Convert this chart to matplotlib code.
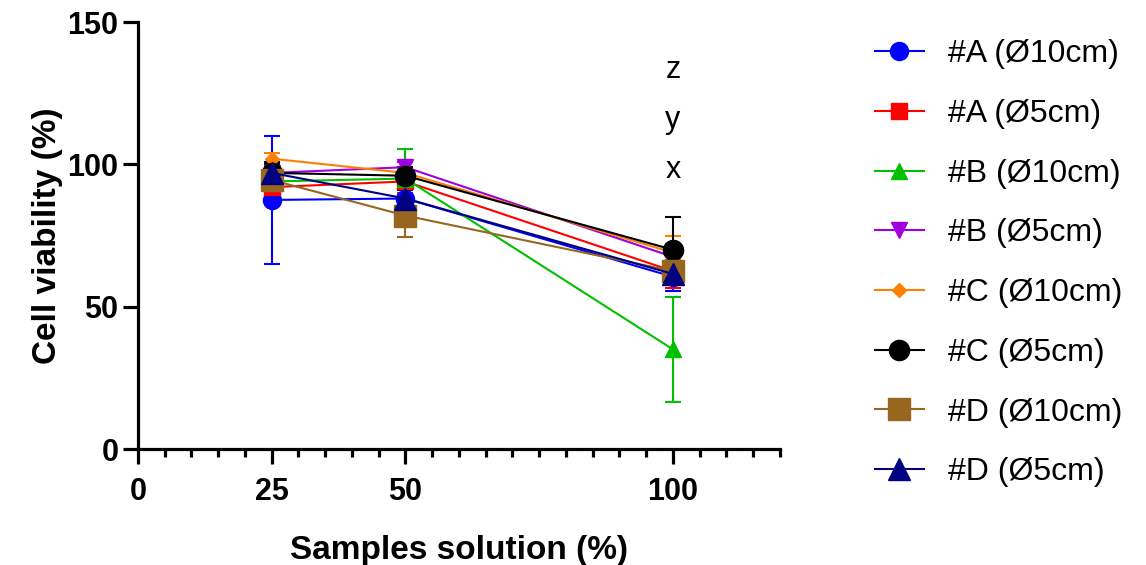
import numpy as np
import matplotlib
matplotlib.use('Agg')
import matplotlib.pyplot as plt
from matplotlib.ticker import MultipleLocator, FixedLocator
from matplotlib.lines import Line2D

plt.rcParams['font.family'] = ['Liberation Sans', 'DejaVu Sans']

# concentrations of the samples solution (%)
conc = [25, 50, 100]

labels = ['#A (Ø10cm)', '#A (Ø5cm)', '#B (Ø10cm)', '#B (Ø5cm)',
          '#C (Ø10cm)', '#C (Ø5cm)', '#D (Ø10cm)', '#D (Ø5cm)']

# mean cell viability (%) per sample
a10_mean = [87.5, 88.0, 60.5]
a5_mean = [92.0, 94.0, 62.5]
b10_mean = [94.0, 95.0, 35.0]
b5_mean = [97.0, 99.0, 67.5]
c10_mean = [102.0, 97.0, 69.0]
c5_mean = [97.0, 96.0, 70.0]
d10_mean = [94.5, 82.0, 62.5]
d5_mean = [97.0, 88.0, 61.5]

# standard deviations
a10_sd = [22.5, 7.5, 5.0]
a5_sd = [3.0, 4.0, 6.0]
b10_sd = [4.0, 10.5, 18.5]
b5_sd = [3.0, 2.0, 4.5]
c10_sd = [2.0, 1.5, 6.0]
c5_sd = [4.0, 3.0, 11.5]
d10_sd = [5.0, 7.5, 4.0]
d5_sd = [3.0, 3.0, 3.0]

means = [a10_mean, a5_mean, b10_mean, b5_mean, c10_mean, c5_mean, d10_mean, d5_mean]
sds = [a10_sd, a5_sd, b10_sd, b5_sd, c10_sd, c5_sd, d10_sd, d5_sd]

colors = ['#0000FF', '#FF0000', '#00C000', '#A000E0',
          '#FF8000', '#000000', '#98661E', '#000080']
markers = ['o', 's', '^', 'v', 'D', 'o', 's', '^']
msizes = [13, 11.5, 12, 12, 7.5, 14.5, 16, 16.5]

# significance letters above the 100% group
letters = ['z', 'y', 'x']
letter_y = [133, 115.5, 98]

fig = plt.figure(figsize=(11.46, 5.65), dpi=100)
ax = fig.add_axes([0.1204, 0.2053, 0.5602, 0.7557])

handles = []
for m, s, c, mk, ms, lab in zip(means, sds, colors, markers, msizes, labels):
    ax.errorbar(conc, m, yerr=s, color=c, marker=mk, markersize=ms,
                linewidth=1.5, elinewidth=1.5, capsize=6, capthick=1.5,
                markeredgecolor=c)
    handles.append(Line2D([], [], color=c, marker=mk, markersize=ms,
                          linewidth=1.5, markeredgecolor=c))

for t, yy in zip(letters, letter_y):
    ax.text(100, yy, t, ha='center', va='center', fontsize=22)

ax.set_xlim(0, 120)
ax.set_ylim(0, 150)
ax.xaxis.set_major_locator(FixedLocator([0, 25, 50, 100]))
ax.xaxis.set_minor_locator(MultipleLocator(5))
ax.yaxis.set_major_locator(MultipleLocator(50))

for side in ['top', 'right']:
    ax.spines[side].set_visible(False)
for side in ['left', 'bottom']:
    ax.spines[side].set_linewidth(2.3)

ax.tick_params(axis='both', which='major', length=11, width=2.3, labelsize=22)
ax.tick_params(axis='x', which='major', pad=9)
ax.tick_params(axis='y', which='major', pad=3)
ax.tick_params(axis='x', which='minor', length=6, width=2.3)
for lbl in ax.get_xticklabels() + ax.get_yticklabels():
    lbl.set_fontweight('bold')

ax.set_xlabel('Samples solution (%)', fontsize=24, fontweight='bold', labelpad=20)
ax.set_ylabel('Cell viability (%)', fontsize=24, fontweight='bold', labelpad=3)

fig.legend(handles, labels, loc='upper left', bbox_to_anchor=(0.752, 0.953),
           frameon=False, fontsize=23, handlelength=1.55, handletextpad=0.75,
           labelspacing=0.93, borderaxespad=0)

fig.savefig('out.png', dpi=100)
